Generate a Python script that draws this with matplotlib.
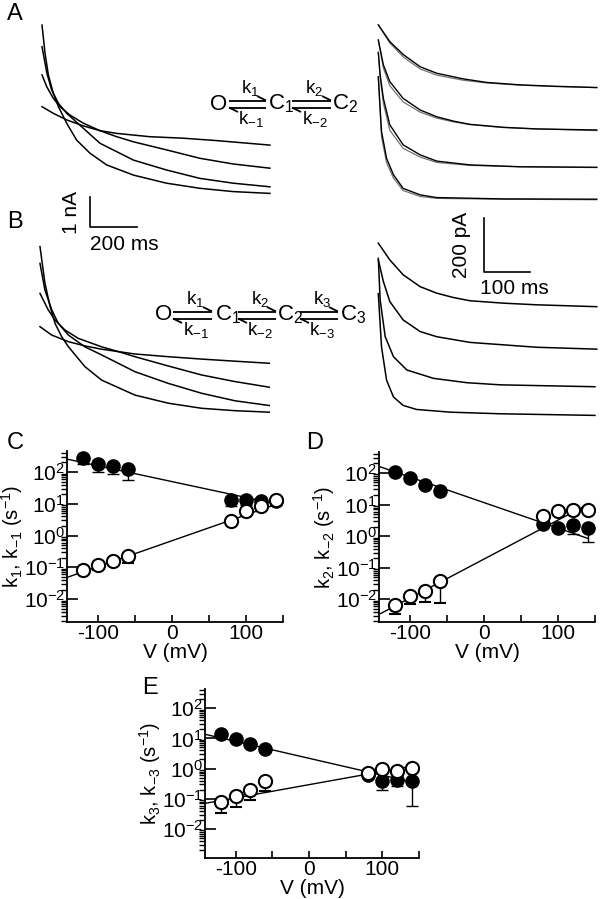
import numpy as np
import matplotlib
matplotlib.use("Agg")
import matplotlib.pyplot as plt
from matplotlib.ticker import FixedLocator, LogLocator, LogFormatterSciNotation, NullFormatter

plt.rcParams['font.family'] = ['Liberation Sans', 'DejaVu Sans']
plt.rcParams['mathtext.fontset'] = 'custom'
plt.rcParams['mathtext.rm'] = 'Liberation Sans'
plt.rcParams['mathtext.it'] = 'Liberation Sans:italic'
plt.rcParams['mathtext.bf'] = 'Liberation Sans:bold'
plt.rcParams['mathtext.default'] = 'regular'

W, H = 601, 899

# ---- current traces (time in ms, current in nA / pA) ----
# A, left: long pulses, nA
AL_t = [[0, 13, 27, 48, 70, 105, 147, 204, 275, 389, 530, 672, 814, 970],
        [0, 21, 41, 70, 105, 176, 247, 389, 530, 672, 814, 970],
        [0, 20, 48, 77, 119, 176, 247, 318, 389, 530, 672, 814, 970],
        [0, 48, 105, 176, 247, 318, 459, 601, 743, 970]]
AL_i = [[5.83, 4.89, 4.17, 3.56, 3.11, 2.56, 2.00, 1.56, 1.17, 0.83, 0.56, 0.39, 0.28, 0.22],
        [5.11, 4.22, 3.67, 3.22, 2.89, 2.39, 1.89, 1.33, 1.00, 0.72, 0.56, 0.44],
        [4.17, 3.78, 3.39, 3.11, 2.83, 2.56, 2.31, 2.11, 1.94, 1.67, 1.39, 1.20, 1.06],
        [3.11, 2.89, 2.67, 2.47, 2.31, 2.22, 2.11, 2.06, 1.98, 1.83]]

# A, right: short pulses, pA (data and fit)
AR_t = [[0, 25, 55, 91, 127, 185, 236, 308, 381, 475],
        [0, 11, 25, 54, 91, 127, 163, 199, 272, 344, 475],
        [0, 4, 11, 25, 54, 91, 127, 199, 308, 475],
        [0, 4, 7, 18, 33, 54, 91, 127, 272, 475]]
AR_i = [[685, 623, 574, 530, 506, 485, 472, 463, 458, 453],
        [629, 537, 475, 413, 370, 345, 329, 317, 306, 300, 296],
        [583, 500, 413, 315, 241, 204, 181, 167, 160, 158],
        [493, 376, 290, 191, 130, 80, 56, 46, 41, 40]]
AR_fit = [[685, 618, 565, 522, 499, 480, 470, 462, 457, 453],
          [629, 525, 460, 400, 362, 340, 326, 316, 305, 300, 294],
          [583, 490, 395, 295, 228, 196, 176, 165, 160, 157],
          [493, 360, 270, 175, 118, 72, 50, 43, 40, 38]]

# B, left
BL_t = [[0, 21, 43, 64, 92, 121, 191, 262, 404, 546, 688, 830, 978],
        [0, 21, 50, 78, 121, 191, 262, 404, 546, 688, 830, 978],
        [0, 35, 64, 106, 163, 262, 333, 404, 546, 688, 830, 978],
        [0, 50, 121, 191, 262, 404, 546, 688, 830, 978]]
BL_i = [[5.78, 4.56, 3.78, 3.22, 2.78, 2.44, 1.78, 1.33, 0.83, 0.56, 0.39, 0.31, 0.26],
        [5.22, 4.33, 3.67, 3.22, 2.83, 2.44, 2.17, 1.61, 1.22, 0.89, 0.64, 0.48],
        [4.22, 3.67, 3.33, 3.0, 2.72, 2.44, 2.28, 2.11, 1.8, 1.5, 1.28, 1.09],
        [3.11, 2.83, 2.61, 2.47, 2.36, 2.2, 2.11, 2.03, 1.96, 1.89]]

# B, right
BR_t = [[0, 25, 54, 91, 127, 163, 199, 272, 344, 475],
        [0, 11, 25, 54, 91, 127, 199, 344, 475],
        [0, 4, 15, 33, 62, 120, 192, 265, 471],
        [0, 7, 18, 33, 54, 83, 156, 265, 471]]
BR_i = [[654, 592, 537, 493, 469, 453, 441, 432, 426, 419],
        [592, 512, 438, 370, 327, 308, 287, 269, 262],
        [598, 444, 308, 234, 185, 154, 138, 130, 123],
        [467, 270, 147, 85, 54, 39, 29, 23, 17]]

# ---- rate constants vs voltage ----
V = [-120, -100, -80, -60, 80, 100, 120, 140]
V_fit = [-140, 140]

k1 = [282, 183, 154, 127, 13.5, 13.5, 12.3, 12.3]
k1_lo = [183, 100, 89, 57, 8.3, 9.5, 8.5, 9.0]
km1 = [0.085, 0.117, 0.159, 0.224, 2.9, 5.96, 8.3, 12.9]
km1_lo = [0.062, 0.085, 0.117, 0.138, 2.1, 4.4, 6.6, 9.5]
k1_fit = [250, 10]
km1_fit = [0.050, 9.5]

k2 = [107, 70, 41, 26, 2.4, 1.8, 2.2, 1.75]
k2_lo = [107, 70, 41, 26, 2.0, 1.8, 1.2, 0.66]
km2 = [0.0065, 0.0126, 0.018, 0.037, 4.4, 6.3, 6.6, 6.6]
km2_lo = [0.0035, 0.0069, 0.0083, 0.0076, 3.2, 6.3, 6.6, 6.6]
k2_fit = [155, 0.85]
km2_fit = [0.0035, 10]

k3 = [13.8, 9.7, 6.5, 4.6, 0.63, 0.38, 0.43, 0.38]
k3_lo = [13.8, 9.7, 6.5, 4.6, 0.63, 0.19, 0.26, 0.06]
km3 = [0.076, 0.12, 0.2, 0.38, 0.74, 0.95, 0.81, 1.05]
km3_lo = [0.035, 0.054, 0.093, 0.18, 0.74, 0.95, 0.81, 1.05]
k3_fit = [13.3, 0.36]
km3_fit = [0.072, 1.2]


fig = plt.figure(figsize=(W / 100, H / 100), dpi=100)


def px_axes(l, t, r, b):
    return fig.add_axes([l / W, 1 - b / H, (r - l) / W, (b - t) / H])


# overlay in pixel coordinates for letters and schemes
ov = fig.add_axes([0, 0, 1, 1], zorder=-1)
ov.set_xlim(0, W)
ov.set_ylim(H, 0)
ov.axis('off')

for lab, x, y in [('A', 15, 14), ('B', 15, 222), ('C', 15, 443), ('D', 315, 443), ('E', 150, 688)]:
    ov.text(x, y, lab, fontsize=17, ha='center', va='center')


def arrows(x0, x1, y, top, bot):
    kw = dict(color='k', lw=1.3, solid_capstyle='butt')
    ov.plot([x0, x1], [y - 3.5, y - 3.5], **kw)
    ov.plot([x1 - 9, x1], [y - 8, y - 3.5], **kw)
    ov.plot([x0, x1], [y + 3.5, y + 3.5], **kw)
    ov.plot([x0, x0 + 9], [y + 3.5, y + 8], **kw)
    xm = (x0 + x1) / 2 + 3
    ov.text(xm, y - 6, top, fontsize=13.5, ha='center', va='bottom')
    ov.text(xm, y + 5, bot, fontsize=13.5, ha='center', va='top')


def scheme(y, states, xs, arr):
    for s, x in zip(states, xs):
        ov.text(x, y, s, fontsize=16, ha='center', va='center')
    for (x0, x1), (t, b) in zip(arr, [('k$_1$', 'k$_{-1}$'), ('k$_2$', 'k$_{-2}$'), ('k$_3$', 'k$_{-3}$')]):
        arrows(x0, x1, y, t, b)


scheme(104, ['O', 'C$_1$', 'C$_2$'], [219, 281, 345], [(229, 266), (292, 331)])
scheme(315, ['O', 'C$_1$', 'C$_2$', 'C$_3$'], [164, 228, 290, 353],
       [(173, 212), (238, 276), (300, 338)])


def traces(ax, ts, Is, xlim, ylim, lw=1.1):
    for t, i in zip(ts, Is):
        ax.plot(t, i, color='k', lw=lw)
    ax.set_xlim(*xlim)
    ax.set_ylim(*ylim)
    ax.axis('off')


axAL = px_axes(40, 20, 272, 200)
traces(axAL, AL_t, AL_i, (-8.5, 978.7), (0, 6))
axAL.plot([204, 204, 404], [0.1, -0.9, -0.9], color='k', lw=1.2, clip_on=False)
axAL.text(127, -0.4, '1 nA', rotation=90, fontsize=15, ha='center', va='center')
axAL.text(350, -1.5, '200 ms', fontsize=15, ha='center', va='center')

axAR = px_axes(375, 20, 600, 215)
for t, f in zip(AR_t, AR_fit):
    axAR.plot(t, f, color='0.45', lw=0.9)
traces(axAR, AR_t, AR_i, (-7.2, 482), (-18.5, 703), lw=1.0)
axAR.plot([230, 230, 330], [-29, -229, -229], color='k', lw=1.2, clip_on=False)
axAR.text(180, -130, '200 pA', rotation=90, fontsize=15, ha='center', va='center')
axAR.text(295, -291, '100 ms', fontsize=15, ha='center', va='center')

axBL = px_axes(38, 240, 270, 425)
traces(axBL, BL_t, BL_i, (-8.5, 978.7), (-0.167, 6.0))

axBR = px_axes(375, 238, 600, 425)
traces(axBR, BR_t, BR_i, (-7.2, 482), (-18.5, 673))


def rate_panel(rect, ylabel, kf, kf_lo, kb, kb_lo, ff, fb, ylim):
    ax = px_axes(*rect)
    ax.set_yscale('log')
    ax.plot(V_fit, ff, color='k', lw=1)
    ax.plot(V_fit, fb, color='k', lw=1)
    ekw = dict(fmt='o', ms=9.5, mec='k', ecolor='k', elinewidth=1, capsize=4.5, capthick=1)
    ax.errorbar(V, kf, yerr=[np.array(kf) - np.array(kf_lo), np.zeros(len(V))],
                mfc='k', **ekw)
    ax.errorbar(V, kb, yerr=[np.array(kb) - np.array(kb_lo), np.zeros(len(V))],
                mfc='w', mew=1.5, **ekw)
    ax.set_xlim(-142, 150)
    ax.set_ylim(*ylim)
    ax.set_xticks([-100, -50, 0, 50, 100, 150])
    ax.set_xticklabels(['-100', '', '0', '', '100', ''])
    ax.yaxis.set_major_locator(FixedLocator([1e-2, 1e-1, 1e0, 1e1, 1e2]))
    ax.yaxis.set_major_formatter(LogFormatterSciNotation())
    ax.yaxis.set_minor_locator(LogLocator(subs=np.arange(2, 10), numticks=20))
    ax.yaxis.set_minor_formatter(NullFormatter())
    ax.tick_params(axis='both', direction='in', labelsize=15, width=1.2, pad=1.5)
    ax.tick_params(axis='y', which='major', length=8)
    ax.tick_params(axis='y', which='minor', length=4.5, width=1)
    ax.tick_params(axis='x', which='major', length=5)
    for s in ['top', 'right']:
        ax.spines[s].set_visible(False)
    for s in ['left', 'bottom']:
        ax.spines[s].set_linewidth(1.3)
    ax.set_xlabel('V (mV)', fontsize=15, labelpad=0)
    ax.set_ylabel(ylabel, fontsize=14.5, labelpad=-1)
    return ax


rate_panel((67, 451, 283, 622), 'k$_1$, k$_{-1}$ (s$^{-1}$)', k1, k1_lo, km1, km1_lo,
           k1_fit, km1_fit, (0.0019, 460))
rate_panel((379, 452, 595, 622), 'k$_2$, k$_{-2}$ (s$^{-1}$)', k2, k2_lo, km2, km2_lo,
           k2_fit, km2_fit, (0.0019, 460))
rate_panel((205, 689, 419, 858), 'k$_3$, k$_{-3}$ (s$^{-1}$)', k3, k3_lo, km3, km3_lo,
           k3_fit, km3_fit, (0.0011, 430))

fig.savefig('out.png', dpi=100)
